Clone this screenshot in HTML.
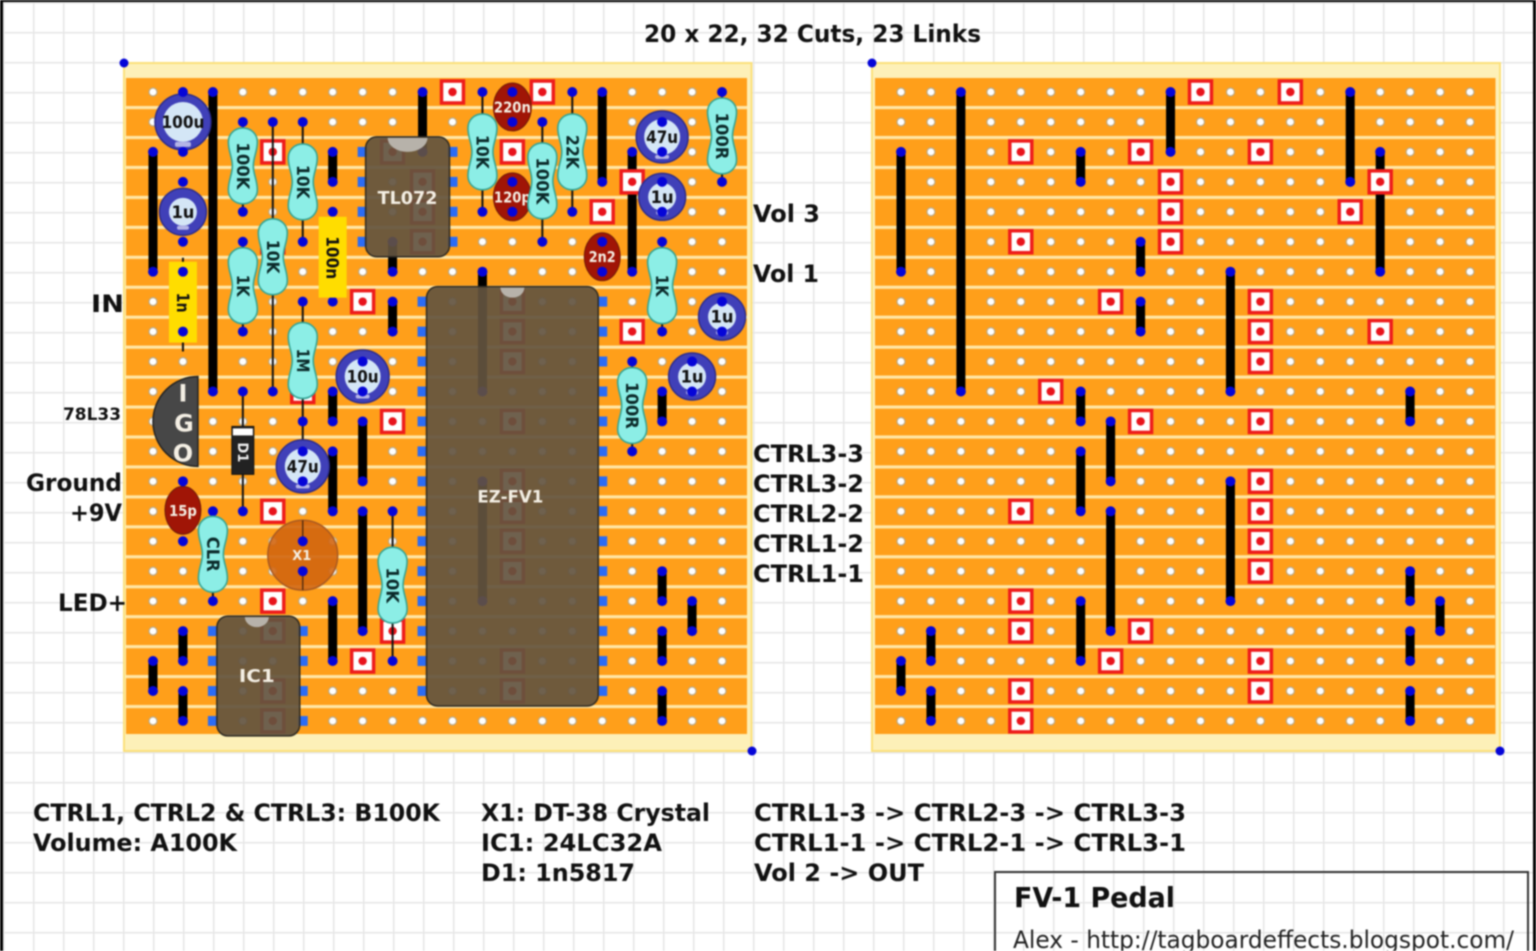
<!DOCTYPE html>
<html><head><meta charset="utf-8"><style>
html,body{margin:0;padding:0;background:#fff;width:1536px;height:951px;overflow:hidden}
svg{display:block;filter:blur(.8px)}
text{font-family:"DejaVu Sans","Liberation Sans",sans-serif}
.b{font-weight:bold;fill:#111;font-size:24px}
.r{font-weight:bold;fill:#0b2a2a;font-size:17px;text-anchor:middle}
.c{font-weight:bold;fill:#111;font-size:17px;text-anchor:middle}
.w{font-weight:bold;fill:#f4efe4;text-anchor:middle}
.leg{stroke:#111;stroke-width:2;fill:none}
.lk{stroke:#000;stroke-width:9;fill:none;stroke-linecap:round}
</style></head><body>
<svg width="1536" height="951" viewBox="0 0 1536 951" xmlns="http://www.w3.org/2000/svg">
<defs>
<pattern id="grid" x="3" y="2" width="30" height="30" patternUnits="userSpaceOnUse">
<path d="M0 0H30M0 0V30" stroke="#e6e6e6" stroke-width="3" fill="none"/>
</pattern>
<pattern id="holes" x="138" y="77" width="30" height="30" patternUnits="userSpaceOnUse">
<circle cx="15" cy="15" r="4" fill="#fff" stroke="#b8a888" stroke-width="1.2"/>
</pattern>
<pattern id="stripes" x="126" y="92" width="30" height="30" patternUnits="userSpaceOnUse">
<rect x="0" y="14" width="30" height="3.2" fill="#ffe6a6"/>
</pattern>
<g id="cut"><rect x="-11" y="-11" width="22" height="22" fill="#fff" stroke="#ee1c1c" stroke-width="3.5"/><circle r="4.2" fill="#e8141c"/></g>
<path id="res" d="M0,-38 C8,-38 14.5,-32 14.5,-24 C14.5,-14 10.5,-9 10.5,0 C10.5,9 14.5,14 14.5,24 C14.5,32 8,38 0,38 C-8,38 -14.5,32 -14.5,24 C-14.5,14 -10.5,9 -10.5,0 C-10.5,-9 -14.5,-14 -14.5,-24 C-14.5,-32 -8,-38 0,-38Z" fill="#8ceee6" stroke="#35a596" stroke-width="1.6"/>
<g id="board">
<rect x="126" y="92" width="622" height="630" fill="url(#stripes)"/>
<rect x="138" y="77" width="600" height="660" fill="url(#holes)"/>
<path class="lk" d="M153 152V272M213 92V392M423 92V152M603 92V182M333 152V182M633 152V272M393 242V272M393 302V332M483 272V392M333 392V422M663 392V422M363 422V482M333 452V512M483 482V602M363 512V632M663 572V602M693 602V632M183 632V662M333 602V662M663 632V662M153 662V692M183 692V722M663 692V722"/>
<g fill="#0505d8"><circle cx="153" cy="152" r="5"/><circle cx="153" cy="272" r="5"/><circle cx="213" cy="92" r="5"/><circle cx="213" cy="392" r="5"/><circle cx="423" cy="92" r="5"/><circle cx="423" cy="152" r="5"/><circle cx="603" cy="92" r="5"/><circle cx="603" cy="182" r="5"/><circle cx="333" cy="152" r="5"/><circle cx="333" cy="182" r="5"/><circle cx="633" cy="152" r="5"/><circle cx="633" cy="272" r="5"/><circle cx="393" cy="242" r="5"/><circle cx="393" cy="272" r="5"/><circle cx="393" cy="302" r="5"/><circle cx="393" cy="332" r="5"/><circle cx="483" cy="272" r="5"/><circle cx="483" cy="392" r="5"/><circle cx="333" cy="392" r="5"/><circle cx="333" cy="422" r="5"/><circle cx="663" cy="392" r="5"/><circle cx="663" cy="422" r="5"/><circle cx="363" cy="422" r="5"/><circle cx="363" cy="482" r="5"/><circle cx="333" cy="452" r="5"/><circle cx="333" cy="512" r="5"/><circle cx="483" cy="482" r="5"/><circle cx="483" cy="602" r="5"/><circle cx="363" cy="512" r="5"/><circle cx="363" cy="632" r="5"/><circle cx="663" cy="572" r="5"/><circle cx="663" cy="602" r="5"/><circle cx="693" cy="602" r="5"/><circle cx="693" cy="632" r="5"/><circle cx="183" cy="632" r="5"/><circle cx="183" cy="662" r="5"/><circle cx="333" cy="602" r="5"/><circle cx="333" cy="662" r="5"/><circle cx="663" cy="632" r="5"/><circle cx="663" cy="662" r="5"/><circle cx="153" cy="662" r="5"/><circle cx="153" cy="692" r="5"/><circle cx="183" cy="692" r="5"/><circle cx="183" cy="722" r="5"/><circle cx="663" cy="692" r="5"/><circle cx="663" cy="722" r="5"/></g>
<use href="#cut" x="453" y="92"/><use href="#cut" x="543" y="92"/><use href="#cut" x="273" y="152"/><use href="#cut" x="393" y="152"/><use href="#cut" x="513" y="152"/><use href="#cut" x="423" y="182"/><use href="#cut" x="633" y="182"/><use href="#cut" x="423" y="212"/><use href="#cut" x="603" y="212"/><use href="#cut" x="273" y="242"/><use href="#cut" x="423" y="242"/><use href="#cut" x="363" y="302"/><use href="#cut" x="513" y="302"/><use href="#cut" x="513" y="332"/><use href="#cut" x="633" y="332"/><use href="#cut" x="513" y="362"/><use href="#cut" x="303" y="392"/><use href="#cut" x="393" y="422"/><use href="#cut" x="513" y="422"/><use href="#cut" x="513" y="482"/><use href="#cut" x="273" y="512"/><use href="#cut" x="513" y="512"/><use href="#cut" x="513" y="542"/><use href="#cut" x="513" y="572"/><use href="#cut" x="273" y="602"/><use href="#cut" x="273" y="632"/><use href="#cut" x="393" y="632"/><use href="#cut" x="363" y="662"/><use href="#cut" x="513" y="662"/><use href="#cut" x="273" y="692"/><use href="#cut" x="513" y="692"/><use href="#cut" x="273" y="722"/>
</g>
</defs>
<rect width="1536" height="951" fill="#fff"/>
<rect width="1536" height="951" fill="url(#grid)"/>
<rect x="0" y="0" width="3" height="951" fill="#000"/>
<rect x="1533" y="0" width="3" height="951" fill="#000"/>
<rect x="0" y="0" width="1536" height="2" fill="#000"/>

<!-- board substrates -->
<rect x="124" y="63" width="627.5" height="688" fill="#fdf0b8" stroke="#fbe07a" stroke-width="2"/>
<rect x="872" y="63" width="628" height="688" fill="#fdf0b8" stroke="#fbe07a" stroke-width="2"/>
<rect x="126" y="78" width="621" height="656" fill="#ff9f1a"/>
<rect x="875" y="78" width="620.5" height="656" fill="#ff9f1a"/>

<use href="#board" transform="translate(153 92) scale(.9983) translate(-153 -92)"/>
<use href="#board" transform="translate(901 92) scale(.9983) translate(-153 -92)"/>

<!-- corner markers -->
<g fill="#0505d8"><circle cx="124" cy="63" r="4.5"/><circle cx="752" cy="751" r="4.5"/><circle cx="872" cy="63" r="4.5"/><circle cx="1500" cy="751" r="4.5"/></g>

<g transform="translate(153 92) scale(.9983) translate(-153 -92)">
<!-- wires and legs -->
<path class="leg" d="M273 122V392M243 122V212M243 242V332M303 122V242M303 302V392M303 392V452M183 262V352M243 392V512M483 92V212M543 122V242M573 92V212M723 92V182M663 242V332M633 362V452M213 512V602M393 512V662"/>
<g fill="#0505d8"><circle cx="243" cy="122" r="5"/><circle cx="273" cy="122" r="5"/><circle cx="303" cy="122" r="5"/><circle cx="243" cy="212" r="5"/><circle cx="303" cy="242" r="5"/><circle cx="243" cy="242" r="5"/><circle cx="243" cy="332" r="5"/><circle cx="303" cy="302" r="5"/><circle cx="273" cy="392" r="5"/><circle cx="303" cy="422" r="5"/><circle cx="333" cy="212" r="5"/><circle cx="333" cy="302" r="5"/><circle cx="243" cy="392" r="5"/><circle cx="243" cy="512" r="5"/><circle cx="483" cy="92" r="5"/><circle cx="483" cy="212" r="5"/><circle cx="543" cy="122" r="5"/><circle cx="543" cy="242" r="5"/><circle cx="573" cy="92" r="5"/><circle cx="573" cy="212" r="5"/><circle cx="723" cy="92" r="5"/><circle cx="723" cy="182" r="5"/><circle cx="663" cy="242" r="5"/><circle cx="663" cy="332" r="5"/><circle cx="633" cy="362" r="5"/><circle cx="633" cy="452" r="5"/><circle cx="213" cy="512" r="5"/><circle cx="213" cy="602" r="5"/><circle cx="393" cy="512" r="5"/><circle cx="393" cy="662" r="5"/></g>

<!-- IC pins -->
<g fill="none" stroke="#2b6cf5" stroke-width="10" stroke-dasharray="10 20">
<path d="M363 147V252M453 147V252M423 297V702M603 297V702M213 627V732M303 627V732"/>
</g>

<!-- ICs -->
<g fill="#63543f" fill-opacity=".92" stroke="#2e2a22" stroke-width="1.5">
<rect x="366" y="137" width="84" height="120" rx="11"/>
<rect x="427" y="287" width="172" height="420" rx="11"/>
<rect x="217" y="617" width="83" height="120" rx="11"/>
</g>
<g fill="#b7b2aa"><path d="M388 138a20 14 0 0 0 40 0Z"/><path d="M501 288a12 10 0 0 0 24 0Z"/><path d="M245 618a12 10 0 0 0 24 0Z"/></g>
<text class="w" x="408" y="204" font-size="18" textLength="60" lengthAdjust="spacingAndGlyphs">TL072</text>
<text class="w" x="511" y="503" font-size="17" textLength="66" lengthAdjust="spacingAndGlyphs">EZ-FV1</text>
<text class="w" x="257" y="683" font-size="18" textLength="36" lengthAdjust="spacingAndGlyphs">IC1</text>

<!-- film caps -->
<rect x="169" y="262" width="28" height="81" fill="#ffdd00"/>
<rect x="319" y="217" width="28" height="81" fill="#ffdd00"/>
<path class="leg" d="M183 258V262M183 343V348"/>
<g fill="#0505d8"><circle cx="183" cy="272" r="5"/><circle cx="183" cy="332" r="5"/></g>
<text class="c" transform="translate(177,303) rotate(90)" textLength="20" lengthAdjust="spacingAndGlyphs">1n</text>
<text class="c" transform="translate(327,258) rotate(90)" textLength="43" lengthAdjust="spacingAndGlyphs">100n</text>

<!-- ceramic caps -->
<g fill="#a01506" stroke="#6f1a0a" stroke-width="1">
<ellipse cx="513" cy="107" rx="19" ry="24"/><ellipse cx="513" cy="197" rx="19" ry="24"/><ellipse cx="603" cy="257" rx="18" ry="24"/><ellipse cx="183" cy="511" rx="18" ry="24"/>
</g>
<g fill="#0505d8"><circle cx="513" cy="92" r="5"/><circle cx="513" cy="122" r="5"/><circle cx="513" cy="182" r="5"/><circle cx="513" cy="212" r="5"/><circle cx="603" cy="242" r="5"/><circle cx="603" cy="272" r="5"/><circle cx="183" cy="482" r="5"/><circle cx="183" cy="542" r="5"/></g>
<text class="w" x="513" y="112.500" font-size="15" textLength="37" lengthAdjust="spacingAndGlyphs">220n</text>
<text class="w" x="513" y="202.500" font-size="15" textLength="37" lengthAdjust="spacingAndGlyphs">120p</text>
<text class="w" x="603" y="262.500" font-size="15" textLength="27" lengthAdjust="spacingAndGlyphs">2n2</text>
<text class="w" x="183" y="516.500" font-size="15" textLength="28" lengthAdjust="spacingAndGlyphs">15p</text>

<!-- electrolytic caps -->
<g fill="#4040b8" stroke="#2c2c8c" stroke-width="1.5">
<circle cx="183" cy="122" r="28"/><circle cx="183" cy="212" r="23.500"/><circle cx="663" cy="137" r="26"/><circle cx="663" cy="197" r="23.500"/><circle cx="723" cy="317" r="23.500"/><circle cx="693" cy="377" r="23.500"/><circle cx="363" cy="377" r="26.500"/><circle cx="303" cy="467" r="26.500"/>
</g>
<g fill="#d4e6f6">
<circle cx="183" cy="122" r="20"/><circle cx="183" cy="212" r="14"/><circle cx="663" cy="137" r="18"/><circle cx="663" cy="197" r="14"/><circle cx="723" cy="317" r="14"/><circle cx="693" cy="377" r="14"/><circle cx="363" cy="377" r="18"/><circle cx="303" cy="467" r="18"/>
</g>
<g fill="#b4b4e6">
<rect x="175" y="142" width="16" height="5" rx="2"/><rect x="177" y="226" width="12" height="4" rx="2"/><rect x="656" y="155" width="14" height="4" rx="2"/><rect x="657" y="211" width="12" height="4" rx="2"/><rect x="717" y="331" width="12" height="4" rx="2"/><rect x="687" y="391" width="12" height="4" rx="2"/><rect x="356" y="395" width="14" height="4" rx="2"/><rect x="296" y="485" width="14" height="4" rx="2"/>
</g>
<g fill="#0505d8"><circle cx="183" cy="92" r="5"/><circle cx="183" cy="152" r="5"/><circle cx="183" cy="182" r="5"/><circle cx="183" cy="242" r="5"/><circle cx="663" cy="122" r="5"/><circle cx="663" cy="152" r="5"/><circle cx="663" cy="182" r="5"/><circle cx="663" cy="212" r="5"/><circle cx="723" cy="302" r="5"/><circle cx="723" cy="332" r="5"/><circle cx="693" cy="362" r="5"/><circle cx="693" cy="392" r="5"/><circle cx="363" cy="362" r="5"/><circle cx="363" cy="392" r="5"/><circle cx="303" cy="452" r="5"/><circle cx="303" cy="482" r="5"/></g>
<text class="c" x="183" y="128" textLength="43" lengthAdjust="spacingAndGlyphs">100u</text>
<text class="c" x="183" y="218" textLength="23" lengthAdjust="spacingAndGlyphs">1u</text>
<text class="c" x="663" y="143" textLength="32" lengthAdjust="spacingAndGlyphs">47u</text>
<text class="c" x="663" y="203" textLength="23" lengthAdjust="spacingAndGlyphs">1u</text>
<text class="c" x="723" y="323" textLength="23" lengthAdjust="spacingAndGlyphs">1u</text>
<text class="c" x="693" y="383" textLength="23" lengthAdjust="spacingAndGlyphs">1u</text>
<text class="c" x="363" y="383" textLength="32" lengthAdjust="spacingAndGlyphs">10u</text>
<text class="c" x="303" y="473" textLength="32" lengthAdjust="spacingAndGlyphs">47u</text>

<!-- resistors -->
<use href="#res" x="243" y="166"/>
<use href="#res" x="243" y="286"/>
<use href="#res" x="273" y="257"/>
<use href="#res" x="303" y="182"/>
<use href="#res" x="303" y="361"/>
<use href="#res" x="483" y="152"/>
<use href="#res" x="543" y="181"/>
<use href="#res" x="573" y="152"/>
<use href="#res" x="723" y="136"/>
<use href="#res" x="663" y="286"/>
<use href="#res" x="633" y="406"/>
<use href="#res" x="213" y="555"/>
<use href="#res" x="393" y="586"/>
<text class="r" transform="translate(237,166) rotate(90)" textLength="47" lengthAdjust="spacingAndGlyphs">100K</text>
<text class="r" transform="translate(237,286) rotate(90)" textLength="22" lengthAdjust="spacingAndGlyphs">1K</text>
<text class="r" transform="translate(267,257) rotate(90)" textLength="34" lengthAdjust="spacingAndGlyphs">10K</text>
<text class="r" transform="translate(297,182) rotate(90)" textLength="34" lengthAdjust="spacingAndGlyphs">10K</text>
<text class="r" transform="translate(297,361) rotate(90)" textLength="24" lengthAdjust="spacingAndGlyphs">1M</text>
<text class="r" transform="translate(477,152) rotate(90)" textLength="34" lengthAdjust="spacingAndGlyphs">10K</text>
<text class="r" transform="translate(537,181) rotate(90)" textLength="47" lengthAdjust="spacingAndGlyphs">100K</text>
<text class="r" transform="translate(567,152) rotate(90)" textLength="34" lengthAdjust="spacingAndGlyphs">22K</text>
<text class="r" transform="translate(717,136) rotate(90)" textLength="47" lengthAdjust="spacingAndGlyphs">100R</text>
<text class="r" transform="translate(657,286) rotate(90)" textLength="22" lengthAdjust="spacingAndGlyphs">1K</text>
<text class="r" transform="translate(627,406) rotate(90)" textLength="47" lengthAdjust="spacingAndGlyphs">100R</text>
<text class="r" transform="translate(207,555) rotate(90)" textLength="35" lengthAdjust="spacingAndGlyphs">CLR</text>
<text class="r" transform="translate(387,586) rotate(90)" textLength="36" lengthAdjust="spacingAndGlyphs">10K</text>

<!-- crystal -->
<circle cx="303" cy="556" r="35" fill="#d2650f" fill-opacity=".9" stroke="#a85a22" stroke-width="1.5"/>
<path d="M303 521V542M303 572V591" stroke="#5a3010" stroke-width="1.5"/>
<g fill="#0505d8"><circle cx="303" cy="542" r="5"/><circle cx="303" cy="572" r="5"/></g>
<text class="w" x="302" y="561" font-size="13" textLength="19" lengthAdjust="spacingAndGlyphs">X1</text>

<!-- regulator -->
<path d="M198 377A45 45 0 0 0 198 467Z" fill="#474747" stroke="#222" stroke-width="1.5"/>
<text class="w" x="183" y="402" font-size="24" fill="#fff">I</text>
<text class="w" x="184" y="432" font-size="24" fill="#fff">G</text>
<text class="w" x="183" y="462" font-size="24" fill="#fff">O</text>

<!-- diode -->
<rect x="232" y="427" width="22" height="48" fill="#222" stroke="#111"/>
<rect x="233" y="429" width="20" height="7" fill="#fff"/>
<text transform="translate(238,443) rotate(90)" font-size="14" font-weight="bold" fill="#eee" textLength="20" lengthAdjust="spacingAndGlyphs">D1</text>
</g>

<!-- labels -->
<g class="b">
<text class="b" x="644" y="42" textLength="337" lengthAdjust="spacingAndGlyphs">20 x 22, 32 Cuts, 23 Links</text>
<text class="b" x="91" y="312" textLength="33" lengthAdjust="spacingAndGlyphs">IN</text>
<text class="b" x="63" y="420" style="font-size:17px" textLength="58" lengthAdjust="spacingAndGlyphs">78L33</text>
<text class="b" x="26" y="491" textLength="96" lengthAdjust="spacingAndGlyphs">Ground</text>
<text class="b" x="70" y="521" textLength="52" lengthAdjust="spacingAndGlyphs">+9V</text>
<text class="b" x="58" y="611" textLength="69" lengthAdjust="spacingAndGlyphs">LED+</text>
<text class="b" x="753" y="222" textLength="67" lengthAdjust="spacingAndGlyphs">Vol 3</text>
<text class="b" x="753" y="282" textLength="66" lengthAdjust="spacingAndGlyphs">Vol 1</text>
<text class="b" x="753" y="462" textLength="111" lengthAdjust="spacingAndGlyphs">CTRL3-3</text>
<text class="b" x="753" y="492" textLength="111" lengthAdjust="spacingAndGlyphs">CTRL3-2</text>
<text class="b" x="753" y="522" textLength="111" lengthAdjust="spacingAndGlyphs">CTRL2-2</text>
<text class="b" x="753" y="552" textLength="111" lengthAdjust="spacingAndGlyphs">CTRL1-2</text>
<text class="b" x="753" y="582" textLength="111" lengthAdjust="spacingAndGlyphs">CTRL1-1</text>
<text class="b" x="33" y="821" textLength="407" lengthAdjust="spacingAndGlyphs">CTRL1, CTRL2 &amp; CTRL3: B100K</text>
<text class="b" x="33" y="851" textLength="204" lengthAdjust="spacingAndGlyphs">Volume: A100K</text>
<text class="b" x="481" y="821" textLength="229" lengthAdjust="spacingAndGlyphs">X1: DT-38 Crystal</text>
<text class="b" x="481" y="851" textLength="181" lengthAdjust="spacingAndGlyphs">IC1: 24LC32A</text>
<text class="b" x="481" y="881" textLength="154" lengthAdjust="spacingAndGlyphs">D1: 1n5817</text>
<text class="b" x="754" y="821" textLength="432" lengthAdjust="spacingAndGlyphs">CTRL1-3 -&gt; CTRL2-3 -&gt; CTRL3-3</text>
<text class="b" x="754" y="851" textLength="432" lengthAdjust="spacingAndGlyphs">CTRL1-1 -&gt; CTRL2-1 -&gt; CTRL3-1</text>
<text class="b" x="754" y="881" textLength="170" lengthAdjust="spacingAndGlyphs">Vol 2 -&gt; OUT</text>
</g>

<!-- title box -->
<path d="M995 953V872H1528V953" fill="none" stroke="#333" stroke-width="2"/>
<text x="1014" y="907" font-size="28" font-weight="bold" fill="#111" textLength="161" lengthAdjust="spacingAndGlyphs">FV-1 Pedal</text>
<text x="1013" y="948" font-size="24" fill="#222" textLength="501" lengthAdjust="spacingAndGlyphs">Alex - http://tagboardeffects.blogspot.com/</text>
</svg>
</body></html>
